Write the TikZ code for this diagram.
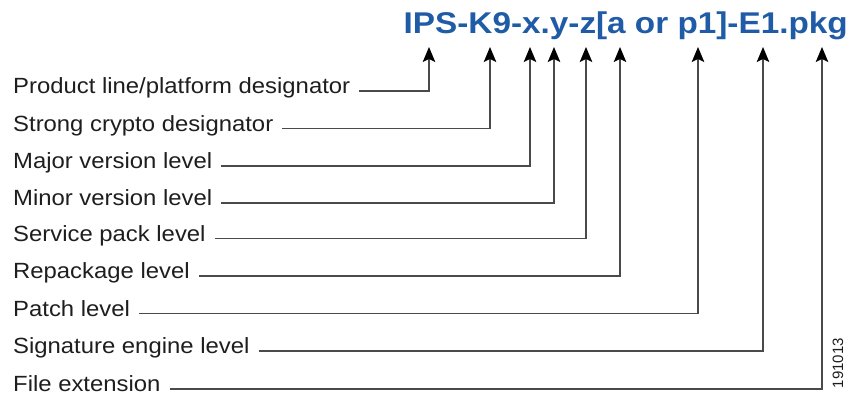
\documentclass[tikz,border=0pt]{standalone}
\usepackage{fontspec}
\setmainfont{Liberation Sans}
\usetikzlibrary{arrows.meta}
\definecolor{CiscoBlue}{HTML}{1F5BA6}
\definecolor{LeadGray}{HTML}{4A4A4A}
\definecolor{TextGray}{HTML}{1E1E1E}
\newcommand\widetext[2][1.11]{\scalebox{#1}[1]{#2}}

\tikzset{
  field/.style={anchor=mid west,inner xsep=0pt,inner ysep=1pt,text=TextGray,font=\fontsize{22}{24}\selectfont},
  lead/.style={draw=LeadGray,line width=1.3pt,shorten <=9pt,
    -{Stealth[length=15pt,width=12.5pt,inset=3pt,color=black]}}
}

\begin{document}
\begin{tikzpicture}[x=1pt,y=-1pt]
  \useasboundingbox (0,0) rectangle (849,398);
  \node[anchor=base east,inner sep=0pt,text=CiscoBlue,font=\fontsize{30}{32}\selectfont\bfseries] (name) at (848,33.5) {\widetext{IPS-K9-x.y-z[a or p1]-E1.pkg}};
  % arrow tips under the file name
  \coordinate (t1) at (429,47);
  \coordinate (t2) at (490,47);
  \coordinate (t3) at (530,47);
  \coordinate (t4) at (554,47);
  \coordinate (t5) at (586,47);
  \coordinate (t6) at (620,47);
  \coordinate (t7) at (698,47);
  \coordinate (t8) at (763,47);
  \coordinate (t9) at (822,47);
  % field names
  \node[field] (f1) at (13,91) {\widetext[1.085]{Product line/platform designator}};
  \node[field] (f2) at (13,128.5) {\widetext[1.085]{Strong crypto designator}};
  \node[field] (f3) at (13,166) {\widetext[1.085]{Major version level}};
  \node[field] (f4) at (13,203) {\widetext[1.085]{Minor version level}};
  \node[field] (f5) at (13,238.5) {\widetext[1.085]{Service pack level}};
  \node[field] (f6) at (13,276) {\widetext[1.085]{Repackage level}};
  \node[field] (f7) at (13,313.5) {\widetext[1.085]{Patch level}};
  \node[field] (f8) at (13,351) {\widetext[1.085]{Signature engine level}};
  \node[field] (f9) at (13,389) {\widetext[1.085]{File extension}};
  \foreach \i in {1,...,9}
    \draw[lead] (f\i.mid east) -| (t\i);
  \node[rotate=90,anchor=base,inner sep=0pt,text=TextGray,font=\fontsize{15}{16}\selectfont] (tag) at (843,363) {191013};
\end{tikzpicture}
\end{document}
